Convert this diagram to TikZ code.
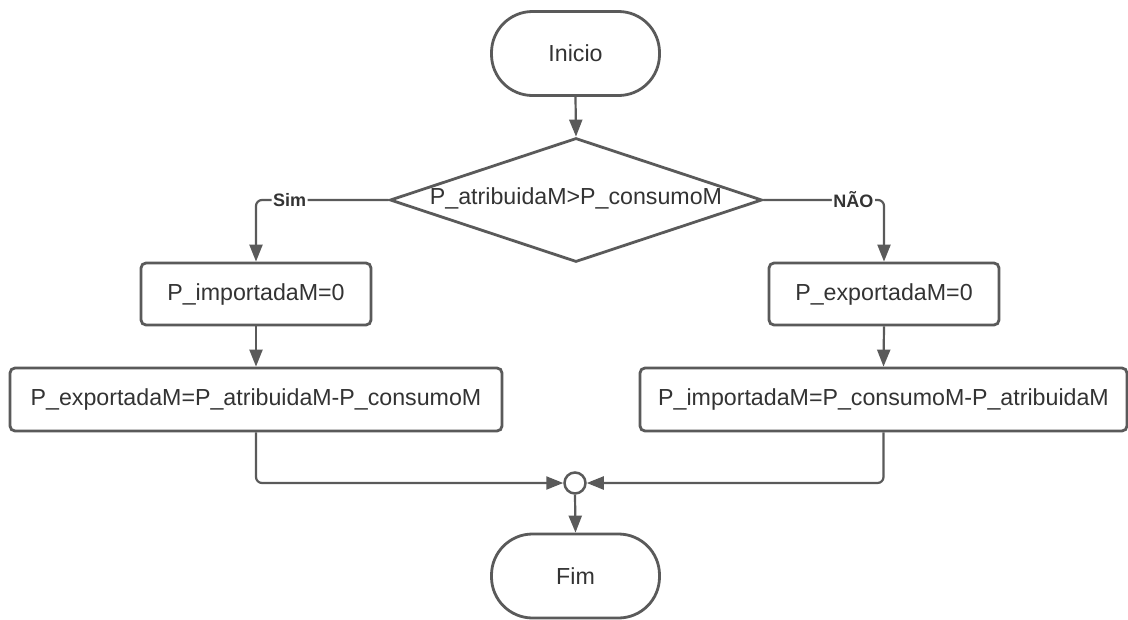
\documentclass[tikz,border=0pt]{standalone}
\usepackage{fontspec}
\setmainfont{Liberation Sans}
\usetikzlibrary{arrows.meta,shapes.geometric}
\definecolor{ln}{HTML}{5A5A5A}
\definecolor{tx}{HTML}{333333}
\begin{document}
\begin{tikzpicture}[x=1pt,y=-1pt,
  shapebox/.style={draw=ln, line width=2.8pt, fill=white, text=tx, inner sep=0pt,
    font=\fontsize{23.2}{27}\selectfont},
  procbox/.style={shapebox, rectangle, rounded corners=5pt},
  termbox/.style={shapebox, rectangle, rounded corners=41pt, minimum width=168pt, minimum height=84pt},
  conn/.style={draw=ln, line width=2.2pt, rounded corners=6pt, -{Triangle[length=17pt,width=13pt]}},
  lbl/.style={fill=white, text=tx, inner sep=1.5pt, font=\bfseries\fontsize{18}{21}\selectfont}
]
\useasboundingbox (0,0) rectangle (1128,619);
\fill[white] (0,0) rectangle (1128,619);

\node[termbox] (ini) at (575.5,53.5) {Inicio};
\node[shapebox, diamond, minimum width=372pt, minimum height=124pt] (dec) at (576,200) {};
\node[text=tx, font=\fontsize{23.2}{27}\selectfont, inner sep=0pt] (dect) at (576,198) {P\_atribuidaM>P\_consumoM};

\node[procbox, minimum width=230pt, minimum height=62pt] (imp0) at (256,294) {P\_importadaM=0};
\node[procbox, minimum width=230pt, minimum height=62pt] (exp0) at (884,294) {P\_exportadaM=0};
\node[procbox, minimum width=492pt, minimum height=63pt] (lbig) at (256,399.5) {P\_exportadaM=P\_atribuidaM-P\_consumoM};
\node[procbox, minimum width=487pt, minimum height=63pt] (rbig) at (883.5,399.5) {P\_importadaM=P\_consumoM-P\_atribuidaM};

\node[circle, draw=ln, line width=2.5pt, fill=white, minimum size=21pt, inner sep=0pt] (join) at (575,483) {};
\node[termbox] (fim) at (575.5,576) {Fim};

\draw[conn] (ini.south) -- (dec.north);
\draw[conn] (dec.west) -| node[lbl, pos=0.373] {Sim} (imp0.north);
\draw[conn] (dec.east) -| node[lbl, pos=0.373] {NÃO} (exp0.north);
\draw[conn] (imp0.south) -- (lbig.north);
\draw[conn] (exp0.south) -- (rbig.north);
\draw[conn] (lbig.south) |- (join.west);
\draw[conn] (rbig.south) |- (join.east);
\draw[conn] (join.south) -- (fim.north);
\end{tikzpicture}
\end{document}
